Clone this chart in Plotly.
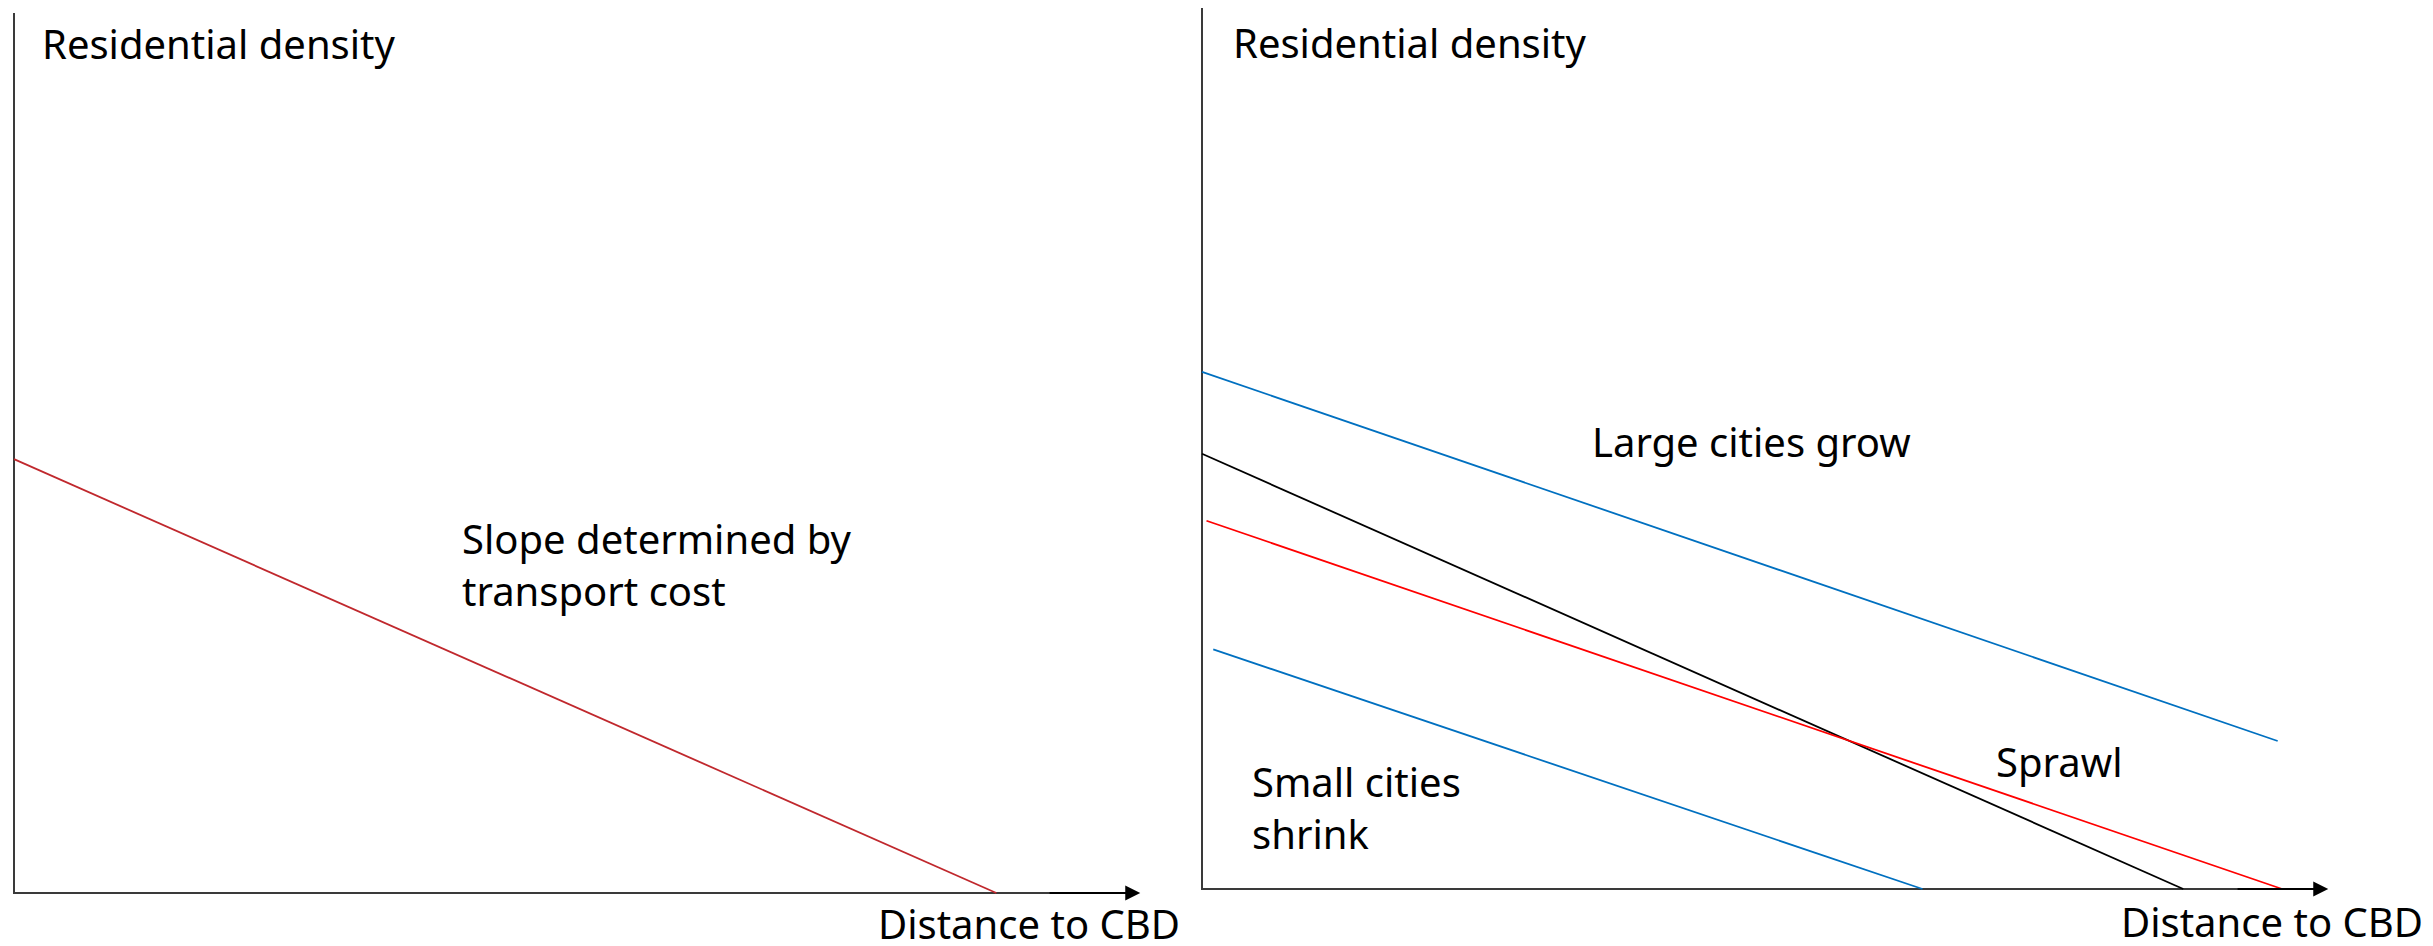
import plotly.graph_objects as go

# ---------------- data (conceptual units: distance 0-100, density 0-100) ----------------
# Left panel: single density gradient
left_distance = [0.0, 87.4]
left_density = [49.3, 0.0]

# Right panel: four gradients
large_grow_distance = [0.0, 95.7]
large_grow_density = [58.7, 16.8]

base_distance = [0.0, 87.3]
base_density = [49.4, 0.0]

sprawl_distance = [0.4, 96.1]
sprawl_density = [41.8, 0.0]

small_shrink_distance = [1.0, 64.1]
small_shrink_density = [27.2, 0.0]

axis_x = [0, 0, 100]
axis_y = [100, 0, 0]

# ---------------- layout geometry (pixels, page coordinates) ----------------
PAGE_W, PAGE_H = 2433, 946
OFF = 8  # default body margin of the html page
W, H = PAGE_W - OFF, PAGE_H - OFF
SX = 11.24  # px per distance unit
# left panel origin (page px)
L_OX, L_OY, L_SY = 14 - OFF, 893 - OFF, 8.8
# right panel origin (page px)
R_OX, R_OY, R_SY = 1202 - OFF, 889 - OFF, 8.81
L_DOM = [0.0, 0.5]
R_DOM = [0.48, 1.0]


def xrange_for(dom, ox):
    p0, p1 = dom[0] * W, dom[1] * W
    return [(p0 - ox) / SX, (p1 - ox) / SX]


def yrange_for(oy, sy):
    return [(oy - H) / sy, oy / sy]


FONT = "Noto Sans, Open Sans, sans-serif"
AX_COL = "#3a3a3a"
FS = 40

fig = go.Figure()

# axes (drawn as lines)
fig.add_trace(go.Scatter(x=axis_x, y=axis_y, mode="lines", line=dict(color=AX_COL, width=2),
                         xaxis="x", yaxis="y", hoverinfo="skip"))
fig.add_trace(go.Scatter(x=axis_x, y=axis_y, mode="lines", line=dict(color=AX_COL, width=2),
                         xaxis="x2", yaxis="y2", hoverinfo="skip"))

# left curve
fig.add_trace(go.Scatter(x=left_distance, y=left_density, mode="lines",
                         line=dict(color="#C0282D", width=1.8), xaxis="x", yaxis="y"))

# right curves
fig.add_trace(go.Scatter(x=large_grow_distance, y=large_grow_density, mode="lines",
                         line=dict(color="#0070C0", width=1.8), xaxis="x2", yaxis="y2"))
fig.add_trace(go.Scatter(x=base_distance, y=base_density, mode="lines",
                         line=dict(color="#000000", width=1.8), xaxis="x2", yaxis="y2"))
fig.add_trace(go.Scatter(x=sprawl_distance, y=sprawl_density, mode="lines",
                         line=dict(color="#FF0000", width=1.8), xaxis="x2", yaxis="y2"))
fig.add_trace(go.Scatter(x=small_shrink_distance, y=small_shrink_density, mode="lines",
                         line=dict(color="#0070C0", width=1.8), xaxis="x2", yaxis="y2"))

annotations = []
# arrow heads on x-axes
for xr, yr in (("x", "y"), ("x2", "y2")):
    annotations.append(dict(x=100.2, y=0, ax=92, ay=0, xref=xr, yref=yr, axref=xr, ayref=yr,
                            text="", showarrow=True, arrowhead=2, arrowsize=1.5, arrowwidth=2,
                            arrowcolor="#000000", standoff=0))


def label(text, x, y, xr, yr):
    annotations.append(dict(x=x, y=y, xref=xr, yref=yr, text=text, showarrow=False,
                            xanchor="left", yanchor="middle", align="left",
                            font=dict(family=FONT, size=FS, color="#000000")))


label("Residential density", 2.3, 96.5, "x", "y")
label("Slope determined by<br>transport cost", 39.7, 37.3, "x", "y")
label("Distance to CBD", 76.7, -3.45, "x", "y")

label("Residential density", 2.6, 96.1, "x2", "y2")
label("Large cities grow", 34.5, 50.8, "x2", "y2")
label("Sprawl", 70.5, 14.5, "x2", "y2")
label("Small cities<br>shrink", 4.3, 9.3, "x2", "y2")
label("Distance to CBD", 81.6, -3.7, "x2", "y2")

hidden = dict(showgrid=False, zeroline=False, showticklabels=False, ticks="", showline=False,
              fixedrange=True)

fig.update_layout(
    width=W, height=H,
    margin=dict(l=0, r=0, t=0, b=0),
    paper_bgcolor="white", plot_bgcolor="rgba(0,0,0,0)",
    showlegend=False,
    xaxis=dict(domain=L_DOM, range=xrange_for(L_DOM, L_OX), **hidden),
    yaxis=dict(domain=[0, 1], range=yrange_for(L_OY, L_SY), **hidden),
    xaxis2=dict(domain=R_DOM, range=xrange_for(R_DOM, R_OX), anchor="y2", **hidden),
    yaxis2=dict(domain=[0, 1], range=yrange_for(R_OY, R_SY), anchor="x2", **hidden),
    annotations=annotations,
    font=dict(family=FONT),
)

fig.write_html("out.html")
